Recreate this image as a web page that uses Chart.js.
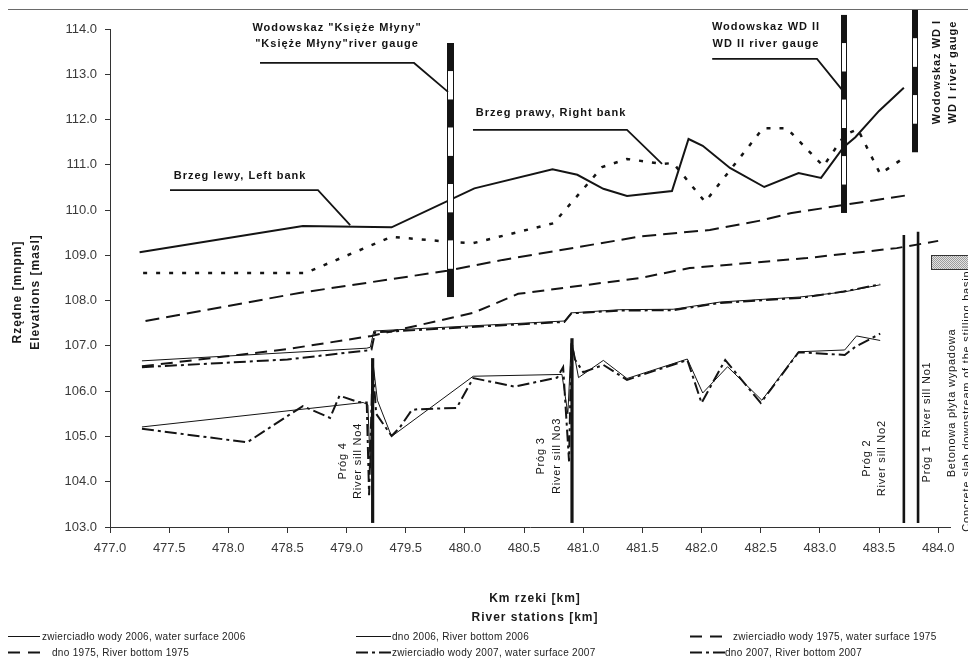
<!DOCTYPE html>
<html>
<head>
<meta charset="utf-8">
<script src="https://cdn.jsdelivr.net/npm/chart.js@4.4.1/dist/chart.umd.min.js"></script>
<style>
  html, body { margin: 0; padding: 0; background: #ffffff; }
  #wrap { position: relative; width: 968px; height: 658px; }
</style>
</head>
<body>
<div id="wrap"><canvas id="profile" width="968" height="658"></canvas></div>
<script>
// ---------------- Longitudinal profile data (km of river, elevation m a.s.l.) ----------------
const xTicks = { min: 477.0, max: 484.1, step: 0.5 };
const yTicks = { min: 103.0, max: 114.0, step: 1.0 };

// water surface 2006
const kmWs2006 = [477.27, 479.17, 479.20, 479.23, 480.84, 480.90, 481.31, 481.76, 482.16, 482.83, 483.20, 483.51];
const ws2006   = [106.67, 106.95, 106.97, 107.33, 107.55, 107.73, 107.80, 107.81, 107.97, 108.08, 108.19, 108.35];

// river bottom 2006
const kmBottom2006 = [477.27, 479.14, 479.18, 479.20, 479.22, 479.26, 479.38, 480.07, 480.82, 480.87, 480.90, 480.96, 481.17, 481.37, 481.88, 482.01, 482.22, 482.51, 482.82, 483.21, 483.31, 483.51];
const bottom2006   = [105.21, 105.75, 105.70, 104.30, 106.70, 105.80, 105.00, 106.33, 106.37, 105.50, 107.15, 106.30, 106.68, 106.28, 106.71, 105.96, 106.54, 105.80, 106.87, 106.91, 107.22, 107.12];

// water surface 1975
const kmWs1975 = [477.30, 478.60, 479.85, 480.32, 481.31, 481.48, 482.07, 482.52, 482.75, 483.17, 483.72];
const ws1975   = [107.55, 108.17, 108.66, 108.90, 109.34, 109.42, 109.56, 109.78, 109.93, 110.10, 110.32];

// river bottom 1975
const kmBottom1975 = [477.27, 478.50, 479.21, 480.07, 480.45, 481.48, 481.90, 482.89, 483.65, 484.00];
const bottom1975   = [106.55, 106.93, 107.22, 107.73, 108.15, 108.50, 108.72, 108.94, 109.16, 109.32];

// water surface 2007
const kmWs2007 = [477.27, 478.50, 479.17, 479.21, 479.24, 480.84, 480.90, 481.31, 481.76, 482.16, 482.83, 483.20, 483.51];
const ws2007   = [106.53, 106.70, 106.90, 106.92, 107.30, 107.53, 107.72, 107.78, 107.79, 107.95, 108.06, 108.20, 108.36];

// river bottom 2007
const kmBottom2007 = [477.27, 478.16, 478.54, 478.63, 478.86, 478.94, 479.10, 479.17, 479.19, 479.22, 479.25, 479.38, 479.45, 479.55, 479.60, 479.93, 480.07, 480.42, 480.78, 480.83, 480.88, 480.90, 480.93, 481.00, 481.17, 481.37, 481.88, 482.00, 482.20, 482.50, 482.82, 483.21, 483.30, 483.51];
const bottom2007   = [105.17, 104.87, 105.52, 105.67, 105.41, 105.90, 105.76, 105.75, 103.70, 106.60, 105.50, 105.01, 105.20, 105.58, 105.60, 105.63, 106.29, 106.10, 106.30, 106.53, 104.45, 107.10, 106.70, 106.42, 106.58, 106.25, 106.69, 105.74, 106.69, 105.74, 106.86, 106.80, 106.98, 107.27];

// left bank
const kmLeftBank = [477.25, 478.63, 479.38, 480.08, 480.74, 480.95, 481.17, 481.37, 481.75, 481.89, 482.01, 482.24, 482.53, 482.82, 483.01, 483.20, 483.30, 483.50, 483.71];
const leftBank   = [109.07, 109.65, 109.62, 110.48, 110.90, 110.78, 110.47, 110.31, 110.42, 111.57, 111.42, 110.93, 110.51, 110.82, 110.71, 111.39, 111.61, 112.19, 112.70];

// right bank
const kmRightBank = [477.28, 478.65, 479.38, 479.86, 480.07, 480.75, 481.16, 481.37, 481.67, 481.76, 482.03, 482.52, 482.72, 483.03, 483.21, 483.32, 483.51, 483.72];
const rightBank   = [108.61, 108.61, 109.41, 109.30, 109.27, 109.71, 110.95, 111.13, 111.02, 111.04, 110.18, 111.81, 111.81, 110.97, 111.66, 111.79, 110.80, 111.17];

// river sills (No4, No3, No2, No1)
const sillKm   = [479.22, 480.905, 483.71, 483.83];
const sillTop  = [106.73, 107.17, 109.45, 109.52];
const sillBase = 103.09;

// river gauges: Księże Młyny, WD II, WD I
const gaugeKm     = [479.874, 483.205, 483.805];
const gaugeTop    = [113.69, 114.31, 114.42];
const gaugeBottom = [108.08, 109.94, 111.28];
const gaugeBands  = [9, 7, 5];

// concrete slab downstream of the stilling basin
const slabKm  = [483.94, 484.40];
const slabElv = [108.70, 109.00];

// ---------------- helpers ----------------
const pts = (xs, ys) => xs.map((x, i) => ({ x: x, y: ys[i] }));
const INK = '#141414';
const FONT = '"Liberation Sans", Arial, sans-serif';

const series = [
  { label: 'zwierciadło wody 2006, water surface 2006', data: pts(kmWs2006, ws2006),         borderWidth: 1,   borderDash: [] },
  { label: 'dno 2006, River bottom 2006',               data: pts(kmBottom2006, bottom2006), borderWidth: 1,   borderDash: [] },
  { label: 'zwierciadło wody 1975, water surface 1975', data: pts(kmWs1975, ws1975),         borderWidth: 2,   borderDash: [14, 7] },
  { label: 'dno 1975, River bottom 1975',               data: pts(kmBottom1975, bottom1975), borderWidth: 2,   borderDash: [12, 7] },
  { label: 'zwierciadło wody 2007, water surface 2007', data: pts(kmWs2007, ws2007),         borderWidth: 2,   borderDash: [12, 4, 3, 4] },
  { label: 'dno 2007, River bottom 2007',               data: pts(kmBottom2007, bottom2007), borderWidth: 2,   borderDash: [12, 4, 3, 4] },
  { label: 'Brzeg lewy, Left bank',                     data: pts(kmLeftBank, leftBank),     borderWidth: 2,   borderDash: [] },
  { label: 'Brzeg prawy, Right bank',                   data: pts(kmRightBank, rightBank),   borderWidth: 2.5, borderDash: [4, 9] }
].map(s => Object.assign({
  borderColor: INK, backgroundColor: INK, pointRadius: 0, pointHoverRadius: 0,
  tension: 0, fill: false, borderCapStyle: 'butt', borderJoinStyle: 'miter'
}, s));

// annotations positioned in axis units (km, m a.s.l.)
const leaders = [
  [[478.268, 113.25], [479.57, 113.25], [479.857, 112.61]],
  [[482.09, 113.34], [482.976, 113.34], [483.19, 112.65]],
  [[477.507, 110.44], [478.758, 110.44], [479.03, 109.67]],
  [[480.068, 111.77], [481.37, 111.77], [481.666, 111.02]]
];
const notes = [
  { t: 'Wodowskaz "Księże Młyny"', km: 478.919, elv: 114.03, bold: true },
  { t: '"Księże Młyny"river gauge', km: 478.919, elv: 113.66, bold: true },
  { t: 'Wodowskaz WD II',          km: 482.545, elv: 114.05, bold: true },
  { t: 'WD II river gauge',        km: 482.545, elv: 113.68, bold: true },
  { t: 'Brzeg lewy, Left bank',    km: 478.099, elv: 110.76, bold: true },
  { t: 'Brzeg prawy, Right bank',  km: 480.728, elv: 112.15, bold: true },
  { t: 'Wodowskaz WD I',           km: 483.99,  elv: 113.05, bold: true, rot: true },
  { t: 'WD I river gauge',         km: 484.126, elv: 113.05, bold: true, rot: true },
  { t: 'Próg 4',                   km: 478.97,  elv: 104.46, rot: true },
  { t: 'River sill No4',           km: 479.096, elv: 104.46, rot: true },
  { t: 'Próg 3',                   km: 480.643, elv: 104.57, rot: true },
  { t: 'River sill No3',           km: 480.779, elv: 104.57, rot: true },
  { t: 'Próg 2',                   km: 483.399, elv: 104.52, rot: true },
  { t: 'River sill No2',           km: 483.526, elv: 104.52, rot: true },
  { t: 'Próg 1  River sill No1',   km: 483.906, elv: 105.32, rot: true },
  { t: 'Betonowa płyta wypadowa',  km: 484.117, elv: 105.74, rot: true },
  { t: 'Concrete slab downstream of the stilling basin', km: 484.244, elv: 105.78, rot: true }
];

// fine grey stipple used for the concrete slab
function slabPattern(ctx) {
  const p = document.createElement('canvas');
  p.width = 2; p.height = 2;
  const g = p.getContext('2d');
  g.fillStyle = '#e2e2e2'; g.fillRect(0, 0, 2, 2);
  g.fillStyle = '#9c9c9c'; g.fillRect(0, 0, 1, 1); g.fillRect(1, 1, 1, 1);
  return ctx.createPattern(p, 'repeat');
}

const drawings = {
  id: 'profileDrawings',
  afterDatasetsDraw(chart) {
    const ctx = chart.ctx, xs = chart.scales.x, ys = chart.scales.y;
    const X = v => xs.getPixelForValue(v), Y = v => ys.getPixelForValue(v);
    const area = chart.chartArea;
    ctx.save();

    // frame line along the top of the figure
    ctx.strokeStyle = '#6a6a6a'; ctx.lineWidth = 1;
    ctx.beginPath(); ctx.moveTo(8, 9.5); ctx.lineTo(968, 9.5); ctx.stroke();

    // river sills
    ctx.strokeStyle = INK; ctx.lineCap = 'butt';
    sillKm.forEach((k, i) => {
      ctx.lineWidth = i < 2 ? 3.2 : 2.6;
      ctx.beginPath(); ctx.moveTo(X(k), Y(sillBase)); ctx.lineTo(X(k), Y(sillTop[i])); ctx.stroke();
    });

    // concrete slab
    ctx.fillStyle = slabPattern(ctx);
    const sx = Math.round(X(slabKm[0])), sy = Math.round(Y(slabElv[1]));
    const sw = X(slabKm[1]) - sx, sh = Math.round(Y(slabElv[0]) - sy);
    ctx.fillRect(sx, sy, sw, sh);
    ctx.strokeStyle = '#333'; ctx.lineWidth = 1;
    ctx.strokeRect(sx + 0.5, sy + 0.5, sw, sh);

    // river gauges (black / white staff)
    gaugeKm.forEach((k, i) => {
      const w = i === 0 ? 7 : 6;
      const x0 = Math.round(X(k) - w / 2);
      const top = Y(gaugeTop[i]), bot = Y(gaugeBottom[i]);
      const h = (bot - top) / gaugeBands[i];
      for (let b = 0; b < gaugeBands[i]; b++) {
        ctx.fillStyle = b % 2 === 0 ? INK : '#ffffff';
        ctx.fillRect(x0, top + b * h, w, h);
      }
      ctx.strokeStyle = INK; ctx.lineWidth = 1;
      ctx.strokeRect(x0 + 0.5, top + 0.5, w - 1, bot - top - 1);
    });

    // leader lines of the labels
    ctx.strokeStyle = INK; ctx.lineWidth = 1.8; ctx.lineJoin = 'miter';
    leaders.forEach(path => {
      ctx.beginPath();
      path.forEach((p, j) => j ? ctx.lineTo(X(p[0]), Y(p[1])) : ctx.moveTo(X(p[0]), Y(p[1])));
      ctx.stroke();
    });

    // labels
    ctx.fillStyle = INK; ctx.textAlign = 'center'; ctx.textBaseline = 'middle';
    notes.forEach(n => {
      ctx.font = (n.bold ? 'bold ' : '') + '11px ' + FONT;
      ctx.letterSpacing = n.bold ? '1px' : '0.8px';
      ctx.save();
      ctx.translate(X(n.km), Y(n.elv));
      if (n.rot) ctx.rotate(-Math.PI / 2);
      ctx.fillText(n.t, 0, 0);
      ctx.restore();
    });

    // axis titles
    ctx.fillStyle = '#1a1a1a';
    ctx.font = 'bold 12px ' + FONT; ctx.letterSpacing = '1px';
    const midY = (area.top + area.bottom) / 2 + 14;
    [['Rzędne [mnpm]', 18], ['Elevations [masl]', 36]].forEach(([t, x]) => {
      ctx.save(); ctx.translate(x, midY); ctx.rotate(-Math.PI / 2); ctx.fillText(t, 0, 0); ctx.restore();
    });
    ctx.fillText('Km rzeki [km]', 535, 599);
    ctx.fillText('River stations [km]', 535, 618);

    // legend
    const cols = [[8, 40], [356, 391], [690, 725]];
    const textX = [[42, 392, 733], [52, 392, 725]];
    const rows = [636, 652];
    ctx.font = '10px ' + FONT; ctx.letterSpacing = '0.3px'; ctx.textAlign = 'left';
    chart.data.datasets.slice(0, 6).forEach((ds, i) => {
      const r = Math.floor(i / 3), c = i % 3, y = rows[r];
      ctx.strokeStyle = INK; ctx.lineWidth = ds.borderWidth === 1 ? 1 : 2.2;
      ctx.setLineDash(ds.borderDash.length ? (ds.borderDash.length === 2 ? [12, 8] : [12, 4, 3, 4]) : []);
      ctx.beginPath(); ctx.moveTo(cols[c][0], y + 0.5); ctx.lineTo(cols[c][1], y + 0.5); ctx.stroke();
      ctx.setLineDash([]);
      ctx.fillStyle = '#222';
      ctx.fillText(ds.label, textX[r][c], y + 1);
    });
    ctx.restore();
  }
};

new Chart(document.getElementById('profile'), {
  type: 'line',
  data: { datasets: series },
  options: {
    responsive: false,
    maintainAspectRatio: false,
    devicePixelRatio: 1,
    animation: false,
    events: [],
    layout: { padding: { left: 0, top: 29, right: 18, bottom: 101 } },
    plugins: { legend: { display: false }, tooltip: { enabled: false } },
    scales: {
      x: {
        type: 'linear', min: xTicks.min, max: xTicks.max,
        afterFit: s => { s.height = 30; },
        border: { display: true, color: '#333', width: 1 },
        grid: { drawOnChartArea: false, drawTicks: true, tickLength: 6, color: '#333' },
        ticks: {
          stepSize: xTicks.step, includeBounds: false, autoSkip: false, maxRotation: 0,
          padding: 8, color: '#3a3a3a', font: { family: FONT, size: 13 },
          callback: v => Number(v).toFixed(1)
        }
      },
      y: {
        type: 'linear', min: yTicks.min, max: yTicks.max,
        afterFit: s => { s.width = 110; },
        border: { display: true, color: '#333', width: 1 },
        grid: { drawOnChartArea: false, drawTicks: true, tickLength: 5, color: '#333' },
        ticks: {
          stepSize: yTicks.step, padding: 8, color: '#3a3a3a', font: { family: FONT, size: 13 },
          callback: v => Number(v).toFixed(1)
        }
      }
    }
  },
  plugins: [drawings]
});
</script>
</body>
</html>
